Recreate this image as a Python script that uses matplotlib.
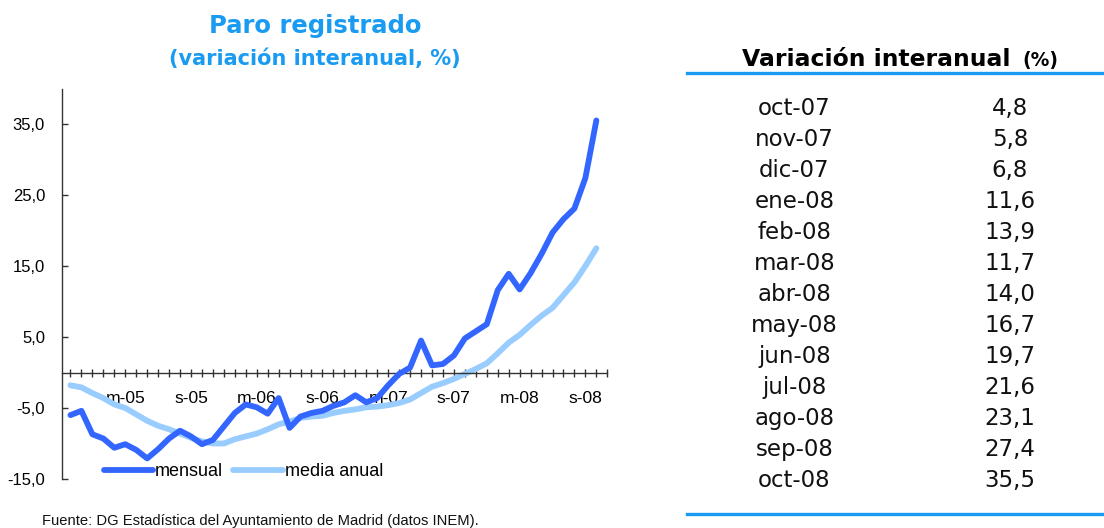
import matplotlib
matplotlib.use("Agg")
import matplotlib.pyplot as plt
from matplotlib.lines import Line2D

# Paro registrado, variación interanual (%), oct-04 .. oct-08
mensual = [-6.0, -5.4, -8.7, -9.3, -10.6, -10.1, -10.9, -12.1, -10.8, -9.3,
           -8.2, -9.0, -10.1, -9.5, -7.6, -5.7, -4.5, -4.9, -5.8, -3.6,
           -7.8, -6.2, -5.7, -5.4, -4.7, -4.2, -3.2, -4.2, -3.6, -1.8,
           -0.2, 0.7, 4.5, 1.0, 1.2, 2.4, 4.8, 5.8, 6.8, 11.6,
           13.9, 11.7, 14.0, 16.7, 19.7, 21.6, 23.1, 27.4, 35.5]
media_anual = [-1.8, -2.1, -2.9, -3.6, -4.5, -5.0, -5.9, -6.8, -7.5, -8.0,
               -8.6, -9.2, -9.7, -10.0, -10.0, -9.4, -9.0, -8.6, -8.0, -7.3,
               -6.9, -6.4, -6.2, -6.1, -5.7, -5.4, -5.2, -4.9, -4.8, -4.6,
               -4.3, -3.8, -2.9, -2.0, -1.5, -0.9, -0.2, 0.5, 1.3, 2.7,
               4.2, 5.3, 6.7, 8.0, 9.1, 10.9, 12.7, 15.0, 17.5]

# etiquetas del eje x (marzo y septiembre), posición en meses desde oct-04
tick_labels = ["m-05", "s-05", "m-06", "s-06", "m-07", "s-07", "m-08", "s-08"]
tick_pos = [5, 11, 17, 23, 29, 35, 41, 47]
y_ticks = [-15, -5, 5, 15, 25, 35]

# tabla de la derecha
tabla_meses = ["oct-07", "nov-07", "dic-07", "ene-08", "feb-08", "mar-08", "abr-08",
               "may-08", "jun-08", "jul-08", "ago-08", "sep-08", "oct-08"]
tabla_valores = [4.8, 5.8, 6.8, 11.6, 13.9, 11.7, 14.0, 16.7, 19.7, 21.6, 23.1, 27.4, 35.5]

W, H = 1104, 528
AZUL = "#1a9bf2"
OSCURO = "#3366ff"
CLARO = "#99ccff"


def fx(x):
    return x / W


def fy(y):
    return 1 - y / H


def coma(v):
    return f"{v:.1f}".replace(".", ",")


fig = plt.figure(figsize=(W / 100, H / 100), dpi=100)
plt.rcParams["font.family"] = ["Liberation Sans", "DejaVu Sans"]

ax = fig.add_axes([fx(61.7), fy(479), fx(607.3 - 61.7), (479 - 88.5) / H])
x = list(range(len(mensual)))
ax.plot(x, mensual, color=OSCURO, lw=4.2, solid_capstyle="round", solid_joinstyle="round",
        label="mensual", zorder=3)
ax.plot(x, media_anual, color=CLARO, lw=4.2, solid_capstyle="round", solid_joinstyle="round",
        label="media anual", zorder=2)

ax.set_xlim(-0.8, 49)
ax.set_ylim(-15, 40)

ax.spines["top"].set_visible(False)
ax.spines["right"].set_visible(False)
ax.spines["bottom"].set_position(("data", 0))
for s in ("left", "bottom"):
    ax.spines[s].set_color("#333333")
    ax.spines[s].set_linewidth(1.0)
ax.spines["left"].set_zorder(4)

# una marca por mes, etiqueta solo en marzo y septiembre
meses = list(range(0, 50))
etiquetas = {p: t for p, t in zip(tick_pos, tick_labels)}
ax.set_xticks(meses)
ax.set_xticklabels([etiquetas.get(m, "") for m in meses])
ax.tick_params(axis="x", direction="inout", length=6, width=1.0, color="#333333",
               pad=10, labelsize=12.6)

ax.set_yticks(y_ticks)
ax.set_yticklabels([coma(v) for v in y_ticks])
ax.tick_params(axis="y", direction="in", length=4.3, width=1.0, color="#333333", pad=12, labelsize=12)

leg = ax.legend(loc="center left", bbox_to_anchor=(0.077, 0.018), ncol=2, frameon=False,
                fontsize=13, handlelength=2.75, handletextpad=0.1, columnspacing=0.55,
                borderpad=0, borderaxespad=0)

# títulos
fig.text(fx(315), fy(26), "Paro registrado", ha="center", va="center", color=AZUL,
         fontsize=17.5, fontweight="bold", family="DejaVu Sans")
fig.text(fx(315), fy(59), "(variación interanual, %)", ha="center", va="center", color=AZUL,
         fontsize=15, fontweight="bold", family="DejaVu Sans")

fig.text(fx(42), fy(514), "Fuente: DG Estadística del Ayuntamiento de Madrid (datos INEM).",
         ha="left", va="top", fontsize=10.6, color="#111111")

# tabla
fig.text(fx(742), fy(66), "Variación interanual", ha="left", va="baseline",
         fontsize=16.9, fontweight="bold", family="DejaVu Sans")
fig.text(fx(1022), fy(66), "(%)", ha="left", va="baseline",
         fontsize=13.5, fontweight="bold", family="DejaVu Sans")
for yy in (73, 513.5):
    fig.add_artist(Line2D([fx(687), 1.0], [fy(yy), fy(yy)], transform=fig.transFigure,
                          color=AZUL, lw=2.4))

for i, (mes, val) in enumerate(zip(tabla_meses, tabla_valores)):
    yy = 108.3 + i * 31.03
    fig.text(fx(794.5), fy(yy), mes, ha="center", va="center", fontsize=16.5,
             family="DejaVu Sans", color="#111111")
    fig.text(fx(1010), fy(yy), coma(val), ha="center", va="center", fontsize=16.5,
             family="DejaVu Sans", color="#111111")

fig.savefig("out.png", dpi=100)
